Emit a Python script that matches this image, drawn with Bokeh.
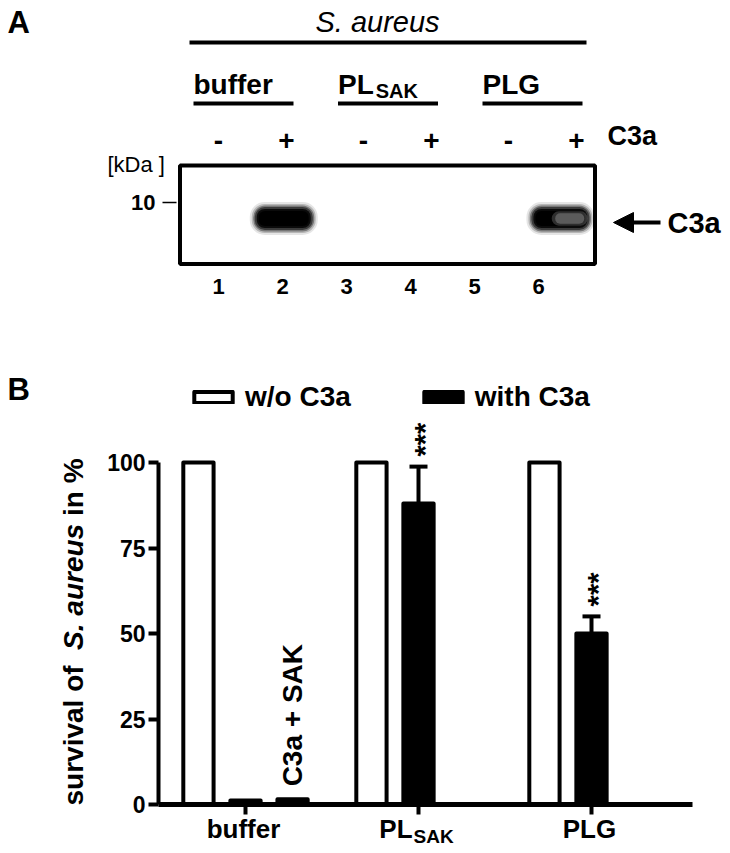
import math
from bokeh.plotting import figure
from bokeh.models import (Range1d, FixedTicker, LinearAxis, Arrow, NormalHead, TeeHead,
                          Whisker, ColumnDataSource)
from bokeh.embed import file_html
from bokeh.resources import INLINE
from bokeh.core.properties import value

FONT = "Liberation Sans"

# ---------------- data ----------------
species = "S. aureus"
blot_groups = ["buffer", "PL_SAK", "PLG"]
c3a_signs = ["-", "+", "-", "+", "-", "+"]
lane_numbers = [1, 2, 3, 4, 5, 6]
band_signal = [0.0, 1.0, 0.0, 0.0, 0.0, 0.9]
marker_kda = ["10"]

bar_groups = ["buffer", "PL_SAK", "PLG"]
survival_wo_c3a = [100, 100, 100]
survival_with_c3a = [1.2, 88, 50]
survival_with_c3a_err = [0, 10.8, 5]
survival_c3a_sak = [1.5]          # buffer group only ("C3a + SAK")
significance = ["", "***", "***"]
y_ticks = [0, 25, 50, 75, 100]

# Arial/Liberation Sans Bold advance widths (1/1000 em)
AW = {' ': 278, 'a': 556, 'b': 611, 'c': 556, 'd': 611, 'e': 556, 'f': 333, 'g': 611,
      'h': 611, 'i': 278, 'k': 556, 'l': 278, 'n': 611, 'o': 611, 'r': 389, 's': 556,
      't': 333, 'u': 611, 'v': 556, 'w': 778, 'S': 667, '%': 889, '.': 278, 'A': 722,
      'K': 722, 'C': 722, 'P': 667, 'L': 611, 'G': 778, '+': 584, '3': 556, '/': 278}


def tw(s, size):
    return sum(AW.get(ch, 556) for ch in s) * size / 1000.0


# ---------------- layout constants (picture pixels) ----------------
W, H = 730, 853
PAGE_L, PAGE_R, PAGE_T, PAGE_B = 0, W, 0, H
X_PX = 173.0          # px per category unit
TICK1 = 245.0         # picture x of first category
Y_PX = 3.42           # px per percent
Y0 = 804.0            # picture y of 0 %


def xdata(page_x):
    return 1 + (page_x - TICK1) / X_PX


p = figure(width=W, height=H,
           x_range=Range1d(xdata(PAGE_L), xdata(PAGE_R)),
           y_range=Range1d(-(PAGE_B - Y0) / Y_PX, (Y0 - PAGE_T) / Y_PX),
           x_axis_type=None, y_axis_type=None, toolbar_location=None,
           output_backend="svg", min_border=0, outline_line_color=None)
p.extra_x_ranges = {"px": Range1d(PAGE_L, PAGE_R)}
p.extra_y_ranges = {"px": Range1d(PAGE_B, PAGE_T)}
p.background_fill_color = "white"
p.border_fill_color = "white"


def txt(x, y, s, size, style="bold", align="left", baseline="alphabetic", angle=0.0,
        xr="px", yr="px"):
    # positions are given as baselines (picture px); draw with a middle baseline
    if baseline == "alphabetic":
        shift = 0.36 * size
        if angle == 0.0:
            y = y - shift
        else:
            x = x - shift
        baseline = "middle"
    p.text(x=[x], y=[y], text=[s], text_font=value(FONT),
           text_font_size=f"{size}px", text_font_style=style, text_align=align,
           text_baseline=baseline, text_color="black", angle=angle,
           x_range_name=xr, y_range_name=yr)


def seg(x0, y0, x1, y1, w):
    p.segment(x0=[x0], y0=[y0], x1=[x1], y1=[y1], line_color="black", line_width=w,
              x_range_name="px", y_range_name="px")


# ================= panel A (blot) =================
txt(7, 33, "A", 31)
txt(377, 32, species, 29, style="italic", align="center")
seg(189, 42, 586, 42, 4)

for g, name in enumerate(blot_groups):
    gx = 193 + 144.5 * g
    main, _, sub = name.partition("_")
    txt(gx, 94, main, 28)
    if sub:
        txt(gx + tw(main, 28) + 2, 98, sub, 20)
    seg(gx, 103, gx + 100, 103, 4)

for i, s in enumerate(c3a_signs):
    sx = 218 + 145 * (i // 2) + 68 * (i % 2)
    txt(sx, 150, s, 28, align="center")
txt(607, 145, "C3a", 27)

txt(107, 172, "[kDa ]", 22, style="normal")
txt(155, 210, marker_kda[0], 22, align="right")
seg(162, 202, 176, 202, 1.5)

box_l, box_r, box_t, box_b = 179.5, 594.5, 165, 263.5
band_y, bw, bh = 218, 58, 23
for k, sig in zip(lane_numbers, band_signal):
    if sig <= 0:
        continue
    cx = box_l + (box_r - box_l) * (k - 0.5) / len(lane_numbers)
    for grow, alpha in [(5, 0.10), (3, 0.2), (1.5, 0.35), (0, 0.5), (-2, 0.8), (-4, 0.95)]:
        w = bw + 2 * grow
        h = bh + 2 * grow
        p.quad(left=[cx - w / 2], right=[cx + w / 2], top=[band_y - h / 2],
               bottom=[band_y + h / 2], fill_color="black", fill_alpha=alpha,
               line_color=None, border_radius=int(max(h / 2 - 1, 1)),
               x_range_name="px", y_range_name="px")
    if sig < 1:
        # fainter right-hand part of the band
        for fwf, fhf, a in [(0.62, 0.62, 0.18), (0.5, 0.45, 0.22)]:
            fw, fh = bw * fwf, bh * fhf
            fx = cx + bw * 0.16
            p.quad(left=[fx - fw / 2], right=[fx + fw / 2], top=[band_y - fh / 2],
                   bottom=[band_y + fh / 2], fill_color="white", fill_alpha=a,
                   line_color=None, border_radius=int(fh / 2),
                   x_range_name="px", y_range_name="px")

p.quad(left=[box_l], right=[box_r], top=[box_t], bottom=[box_b], fill_color=None,
       line_color="black", line_width=4, x_range_name="px", y_range_name="px")

p.add_layout(Arrow(x_start=660, y_start=222, x_end=613, y_end=222, line_width=4,
                   line_color="black", x_range_name="px", y_range_name="px",
                   end=NormalHead(size=20, fill_color="black", line_color="black")))
txt(667, 233, "C3a", 29)

for i, n in enumerate(lane_numbers):
    txt(218 + 64 * i, 294, str(n), 22, align="center")

# ================= panel B (bars) =================
txt(7, 400, "B", 31)

xs = [i + 1 for i in range(len(bar_groups))]
off = 0.272
bar_w = 0.175

p.vbar(x=[x - off for x in xs], top=survival_wo_c3a, bottom=0, width=bar_w,
       fill_color="white", line_color="black", line_width=4, line_join="round",
       legend_label="w/o C3a")
p.vbar(x=xs, top=survival_with_c3a, bottom=0, width=bar_w, fill_color="black",
       line_color="black", line_width=4, line_join="round", legend_label="with C3a")
p.vbar(x=[xs[0] + off], top=survival_c3a_sak, bottom=0, width=bar_w, fill_color="black",
       line_color="black", line_width=4, line_join="round")

err_x = [x for x, e in zip(xs, survival_with_c3a_err) if e > 0]
err_lo = [m for m, e in zip(survival_with_c3a, survival_with_c3a_err) if e > 0]
err_hi = [m + e for m, e in zip(survival_with_c3a, survival_with_c3a_err) if e > 0]
wsrc = ColumnDataSource(dict(base=err_x, lower=err_lo, upper=err_hi))
p.add_layout(Whisker(source=wsrc, base="base", lower="lower", upper="upper",
                     line_width=4, line_color="black", lower_head=None,
                     upper_head=TeeHead(size=18, line_width=4, line_color="black")))

for x, m, e, s in zip(xs, survival_with_c3a, survival_with_c3a_err, significance):
    if s:
        txt(x + 6 / X_PX, m + e + 10 / Y_PX, s, 29, style="bold", baseline="middle",
            angle=math.pi / 2, xr="default", yr="default")

txt(xs[0] + off, survival_c3a_sak[0] + 13 / Y_PX, "C3a + SAK", 28, baseline="middle",
    angle=math.pi / 2, xr="default", yr="default")

# axes (drawn at fixed data locations inside the frame)
x_axis_left, x_axis_right = xdata(158), xdata(692)
yax = LinearAxis(fixed_location=x_axis_left, ticker=FixedTicker(ticks=y_ticks),
                 bounds=(0, 100), axis_line_width=4, axis_line_color="black",
                 major_tick_line_width=4, major_tick_line_color="black",
                 major_tick_in=10, major_tick_out=0, minor_tick_in=0, minor_tick_out=0,
                 major_label_standoff=0, major_label_text_font_size="0px",
                 major_label_overrides={t: "" for t in y_ticks})
p.add_layout(yax, "right")
xax = LinearAxis(fixed_location=0, ticker=FixedTicker(ticks=xs),
                 bounds=(x_axis_left, x_axis_right), axis_line_width=5,
                 axis_line_color="black", major_tick_line_width=4,
                 major_tick_line_color="black", major_tick_in=10, major_tick_out=0,
                 minor_tick_in=0, minor_tick_out=0, major_label_standoff=0,
                 major_label_text_font_size="0px",
                 major_label_overrides={x: "" for x in xs})
p.add_layout(xax, "above")

# y tick labels
p.text(x=[x_axis_left] * len(y_ticks), y=y_ticks, text=[str(t) for t in y_ticks],
       x_offset=-13, text_font=value(FONT), text_font_size="23px",
       text_font_style="bold", text_align="right", text_baseline="middle",
       text_color="black")

# category labels under the x axis
for x, name in zip(xs, bar_groups):
    main, _, sub = name.partition("_")
    total = tw(main, 26) + (tw(sub, 19) + 1 if sub else 0)
    start = x - (total / 2 + 2) / X_PX
    txt(start, 838, main, 26, xr="default")
    if sub:
        txt(start + (tw(main, 26) + 1) / X_PX, 843, sub, 19, xr="default")

# y axis title with italic species name
pieces = [("survival of  ", "bold"), (species, "bold italic"), (" in %", "bold")]
ypos = 805.0
for s, st in pieces:
    lead = len(s) - len(s.lstrip())
    txt(83, ypos - tw(" " * lead, 28), s.strip(), 28, style=st, angle=math.pi / 2)
    ypos -= tw(s, 28)

lg = p.legend[0]
lg.orientation = "horizontal"
lg.location = (189, PAGE_B - 413)
lg.glyph_width = 48
lg.glyph_height = 14
lg.label_standoff = 8
lg.spacing = 68
lg.padding = 0
lg.margin = 0
lg.border_line_color = None
lg.background_fill_alpha = 0
lg.label_text_font = FONT
lg.label_text_font_style = "bold"
lg.label_text_font_size = "28px"
lg.label_text_color = "black"

open("out.html", "w").write(file_html(p, INLINE))
